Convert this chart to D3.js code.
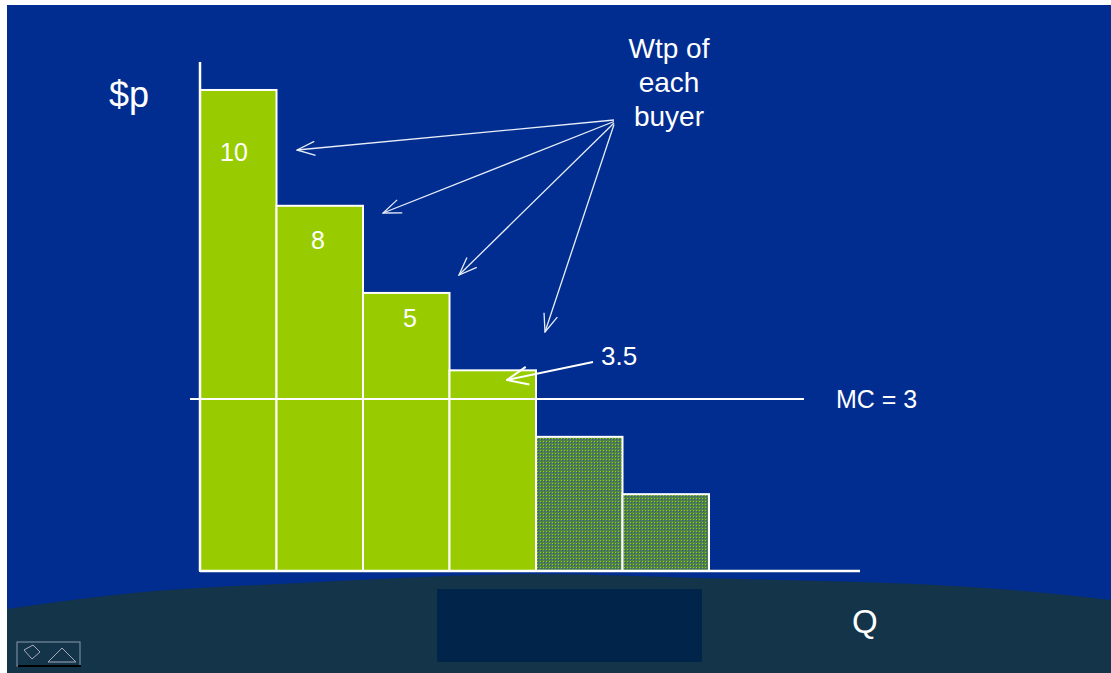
<!DOCTYPE html>
<html>
<head>
<meta charset="utf-8">
<script src="https://cdn.jsdelivr.net/npm/d3@7"></script>
<style>
body{margin:0;background:#fff;}
svg text{font-family:"Liberation Sans",Arial,sans-serif;fill:#fff;}
</style>
</head>
<body>
<div id="vis"></div>
<script>
// bars (buyers), heights as drawn on the price axis, and the wtp labels written on them
var buyers = ["b1","b2","b3","b4","b5","b6"];
var barHeights = [8.39, 6.37, 4.85, 3.5, 2.34, 1.34];
var wtpLabels = ["10","8","5","3.5","",""];
var served = [true,true,true,true,false,false];
var mc = 3;
var mcLabel = "MC = 3";
var noteLines = ["Wtp of","each","buyer"];

var W = 1111, H = 673;
var svg = d3.select("#vis").append("svg").attr("width",W).attr("height",H);

// hatched pattern for the buyers left out
var defs = svg.append("defs");
var pat = defs.append("pattern").attr("id","hatch").attr("width",3).attr("height",3).attr("patternUnits","userSpaceOnUse");
pat.append("rect").attr("width",3).attr("height",3).attr("fill","#4f8248");
pat.append("rect").attr("x",0).attr("y",0).attr("width",1).attr("height",1).attr("fill","#9acb10");
pat.append("rect").attr("x",1).attr("y",1).attr("width",1).attr("height",1).attr("fill","#33589a");

// open arrow heads
var arrowW = defs.append("marker").attr("id","open").attr("viewBox","0 0 20 20").attr("refX",19).attr("refY",10)
    .attr("markerWidth",20).attr("markerHeight",20).attr("markerUnits","userSpaceOnUse").attr("orient","auto");
arrowW.append("path").attr("d","M1,3 L19,10 L1,17").attr("fill","none").attr("stroke","#e8eef8").attr("stroke-width",1.3);
var arrowB = defs.append("marker").attr("id","openB").attr("viewBox","0 0 24 24").attr("refX",23).attr("refY",12)
    .attr("markerWidth",24).attr("markerHeight",24).attr("markerUnits","userSpaceOnUse").attr("orient","auto");
arrowB.append("path").attr("d","M2,3 L23,12 L2,21").attr("fill","none").attr("stroke","#fff").attr("stroke-width",2);

// slide background
svg.append("rect").attr("x",7).attr("y",5).attr("width",W-7).attr("height",H-5).attr("fill","#002d8f");

// scales
var axisX = 200, base = 571;
var x = d3.scaleBand().domain(buyers).range([190,709]).padding(0);
var y = d3.scaleLinear().domain([0,mc]).range([base,399]);

// bars
var bars = svg.append("g");
bars.selectAll("rect").data(buyers).enter().append("rect")
    .attr("x",(d) => Math.max(x(d),axisX))
    .attr("y",(d,i) => y(barHeights[i]))
    .attr("width",(d) => x(d)+x.bandwidth()-Math.max(x(d),axisX))
    .attr("height",(d,i) => base-y(barHeights[i]))
    .attr("fill",(d,i) => served[i] ? "#99cc00" : "url(#hatch)")
    .attr("stroke","#fff").attr("stroke-width",2);

// axes
svg.append("line").attr("x1",axisX).attr("y1",y(8.88)).attr("x2",axisX).attr("y2",base).attr("stroke","#fff").attr("stroke-width",2.5);
svg.append("line").attr("x1",axisX).attr("y1",base).attr("x2",860).attr("y2",base).attr("stroke","#fff").attr("stroke-width",2.5);
// MC line
svg.append("line").attr("x1",190).attr("y1",y(mc)).attr("x2",804).attr("y2",y(mc)).attr("stroke","#fff").attr("stroke-width",2);
svg.append("text").text(mcLabel).attr("x",836).attr("y",y(mc)+9).attr("font-size",25);

// bar labels (first three inside the bars)
var inside = [[234,161],[318,249],[410,327]];
for(var i=0;i<3;i++){
    svg.append("text").text(wtpLabels[i]).attr("x",inside[i][0]).attr("y",inside[i][1])
        .attr("text-anchor","middle").attr("font-size",25);}
svg.append("text").text(wtpLabels[3]).attr("x",601).attr("y",365).attr("font-size",26);

// note and arrows
noteLines.forEach(function(t,j){
    svg.append("text").text(t).attr("x",669).attr("y",58+j*34).attr("text-anchor","middle").attr("font-size",28);});
var targets = [[297,150],[383,213],[459,275],[545,332]];
targets.forEach(function(p,j){
    svg.append("line").attr("x1",614).attr("y1",120+j*1.5).attr("x2",p[0]).attr("y2",p[1])
        .attr("stroke","#e8eef8").attr("stroke-width",1.3).attr("marker-end","url(#open)");});
svg.append("line").attr("x1",593).attr("y1",362).attr("x2",507).attr("y2",380)
    .attr("stroke","#fff").attr("stroke-width",2).attr("marker-end","url(#openB)");

// dark ground with curved top
var ground = [[7,609],[133,593],[300,583],[540,574],[700,578],[1000,589],[1111,600]];
var gLine = d3.line().curve(d3.curveMonotoneX);
svg.append("path").attr("d",gLine(ground)+"L1111,673L7,673Z").attr("fill","#14344a");
svg.append("rect").attr("x",437).attr("y",589).attr("width",265).attr("height",73).attr("fill","#00244a");
svg.append("text").text("Q").attr("x",852).attr("y",633).attr("font-size",33);
svg.append("text").text("$p").attr("x",109).attr("y",107).attr("font-size",36);

// little nav buttons
svg.append("rect").attr("x",17).attr("y",642).attr("width",63).attr("height",24).attr("fill","#14344a").attr("stroke","#8899aa").attr("stroke-width",1);
svg.append("rect").attr("x",18).attr("y",665).attr("width",63).attr("height",2).attr("fill","#000");
svg.append("path").attr("d","M24,650 L33,645 L40,652 L32,659 Z").attr("fill","none").attr("stroke","#aab").attr("stroke-width",1);
svg.append("path").attr("d","M48,662 L62,648 L76,662 Z").attr("fill","none").attr("stroke","#aab").attr("stroke-width",1);
</script>
</body>
</html>
